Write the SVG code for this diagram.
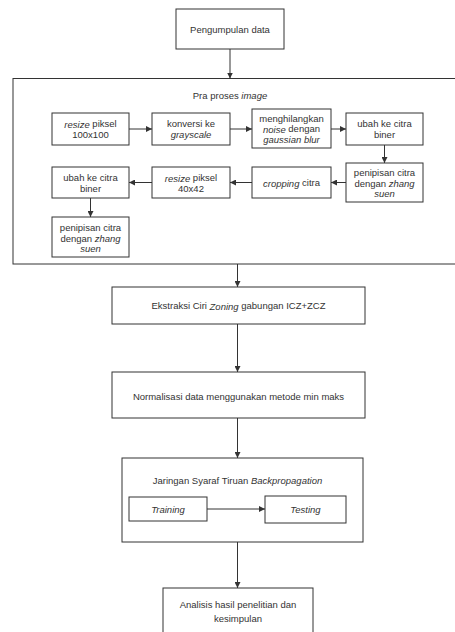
<svg xmlns="http://www.w3.org/2000/svg" width="455" height="632" viewBox="0 0 455 632">
<style>
.b{fill:#fff;stroke:#333;stroke-width:1}
.c{fill:none;stroke:#333;stroke-width:1}
text{font-family:"Liberation Sans",Arial,Helvetica,sans-serif;font-size:9.5px;fill:#333;text-anchor:middle;dominant-baseline:central}
.i{font-style:italic}
</style>
<defs>
<marker id="a" viewBox="0 0 10 10" refX="10" refY="5" markerWidth="6" markerHeight="6" markerUnits="userSpaceOnUse" orient="auto">
<path d="M0,0 L10,5 L0,10 Z" fill="#333"/>
</marker>
</defs>
<rect width="455" height="632" fill="#fff"/>

<g id="pengumpulan"><rect class="b" x="176" y="9" width="108" height="40"/><text x="230" y="29">Pengumpulan data</text></g>

<g id="praproses"><rect class="b" x="13" y="78.5" width="450" height="185.5"/><text x="230" y="95">Pra proses <tspan class="i">image</tspan></text></g>

<g id="resize100"><rect class="b" x="52" y="113" width="77" height="32"/><text x="90.5" y="123.5"><tspan class="i">resize</tspan> piksel</text><text x="90.5" y="134.5">100x100</text></g>
<g id="grayscale"><rect class="b" x="152" y="113" width="78" height="32"/><text x="191" y="123.5">konversi ke</text><text x="191" y="134.5" class="i">grayscale</text></g>
<g id="gaussian"><rect class="b" x="252" y="109" width="79" height="39"/><text x="291.5" y="118">menghilangkan</text><text x="291.5" y="128.5"><tspan class="i">noise</tspan> dengan</text><text x="291.5" y="139.5" class="i">gaussian blur</text></g>
<g id="biner1"><rect class="b" x="346" y="113" width="77" height="32"/><text x="384.5" y="123.5">ubah ke citra</text><text x="384.5" y="134.5">biner</text></g>
<g id="zhang1"><rect class="b" x="346" y="163" width="77" height="39"/><text x="384.5" y="172.5">penipisan citra</text><text x="384.5" y="183"><tspan>dengan </tspan><tspan class="i">zhang</tspan></text><text x="384.5" y="193.5" class="i">suen</text></g>
<g id="cropping"><rect class="b" x="252" y="167" width="79" height="31"/><text x="291.5" y="182.5"><tspan class="i">cropping</tspan> citra</text></g>
<g id="resize40"><rect class="b" x="152" y="167" width="78" height="31"/><text x="191" y="177.5"><tspan class="i">resize</tspan> piksel</text><text x="191" y="188.5">40x42</text></g>
<g id="biner2"><rect class="b" x="52" y="167" width="77" height="31"/><text x="90.5" y="177.5">ubah ke citra</text><text x="90.5" y="188.5">biner</text></g>
<g id="zhang2"><rect class="b" x="52" y="217" width="77" height="40"/><text x="90.5" y="227">penipisan citra</text><text x="90.5" y="237.5"><tspan>dengan </tspan><tspan class="i">zhang</tspan></text><text x="90.5" y="248" class="i">suen</text></g>

<g id="ekstraksi"><rect class="b" x="112" y="287" width="253" height="37"/><text x="238.5" y="305.5">Ekstraksi Ciri <tspan class="i">Zoning</tspan> gabungan ICZ+ZCZ</text></g>
<g id="normalisasi"><rect class="b" x="112" y="372" width="253" height="46"/><text x="238.5" y="396">Normalisasi data menggunakan metode min maks</text></g>

<g id="jst"><rect class="b" x="122" y="458" width="241" height="84"/><text x="237.5" y="480">Jaringan Syaraf Tiruan <tspan class="i">Backpropagation</tspan></text></g>
<g id="training"><rect class="b" x="129" y="497" width="78" height="24"/><text x="168" y="509" class="i">Training</text></g>
<g id="testing"><rect class="b" x="265" y="496" width="81" height="27"/><text x="305.5" y="509.5" class="i">Testing</text></g>

<g id="analisis"><rect class="b" x="163" y="588" width="150" height="60"/><text x="238" y="604">Analisis hasil penelitian dan</text><text x="238" y="618">kesimpulan</text></g>

<g id="connectors">
<path class="c" d="M230,49 V78.5" marker-end="url(#a)"/>
<path class="c" d="M129,129 H152" marker-end="url(#a)"/>
<path class="c" d="M230,129 H252" marker-end="url(#a)"/>
<path class="c" d="M331,129 H346" marker-end="url(#a)"/>
<path class="c" d="M384.5,145 V163" marker-end="url(#a)"/>
<path class="c" d="M346,182.5 H331" marker-end="url(#a)"/>
<path class="c" d="M252,182.5 H230" marker-end="url(#a)"/>
<path class="c" d="M152,182.5 H129" marker-end="url(#a)"/>
<path class="c" d="M90.5,198 V217" marker-end="url(#a)"/>
<path class="c" d="M237.5,264 V287" marker-end="url(#a)"/>
<path class="c" d="M237.5,324 V372" marker-end="url(#a)"/>
<path class="c" d="M237.5,418 V458" marker-end="url(#a)"/>
<path class="c" d="M207,509 H265" marker-end="url(#a)"/>
<path class="c" d="M237.5,542 V588" marker-end="url(#a)"/>
</g>
</svg>
